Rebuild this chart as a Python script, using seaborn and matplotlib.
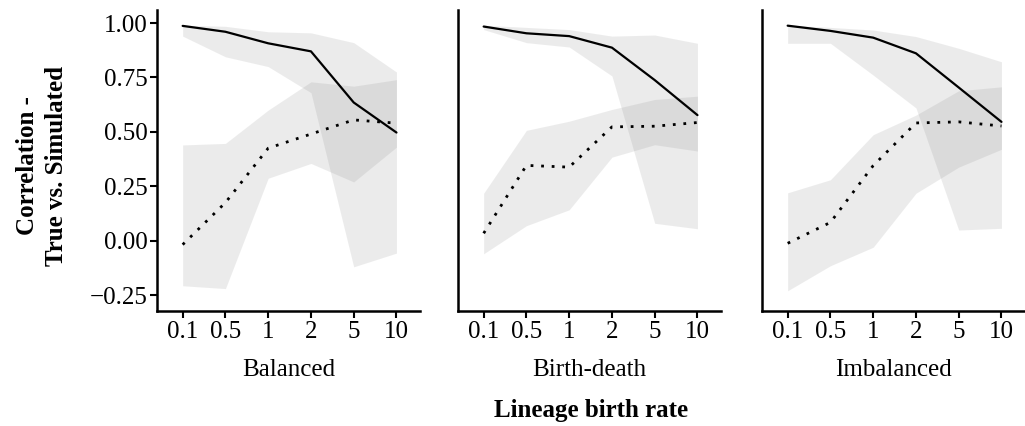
"""
Correlation of true vs simulated values across lineage birth rates.
"""

import matplotlib
matplotlib.use("Agg")
import matplotlib.pyplot as plt
import numpy as np
import pandas as pd
import seaborn as sns

sns.set_theme(style="ticks")
plt.rcParams["font.family"] = ["Liberation Serif", "DejaVu Serif"]
plt.rcParams.update({"font.size": 18, "xtick.labelsize": 18, "ytick.labelsize": 18})
plt.rcParams.update({"text.color": "black", "axes.labelcolor": "black",
                     "xtick.color": "black", "ytick.color": "black"})

# data
rates = ["0.1", "0.5", "1", "2", "5", "10"]
panels = ["Balanced", "Birth-death", "Imbalanced"]

solid_mean = {
    "Balanced": [0.987, 0.960, 0.907, 0.870, 0.635, 0.497],
    "Birth-death": [0.984, 0.953, 0.940, 0.887, 0.738, 0.577],
    "Imbalanced": [0.988, 0.964, 0.933, 0.861, 0.704, 0.546],
}
solid_hi = {
    "Balanced": [0.990, 0.985, 0.960, 0.955, 0.910, 0.775],
    "Birth-death": [0.990, 0.980, 0.970, 0.940, 0.945, 0.907],
    "Imbalanced": [0.990, 0.980, 0.968, 0.938, 0.884, 0.822],
}
solid_lo = {
    "Balanced": [0.940, 0.845, 0.800, 0.680, -0.120, -0.057],
    "Birth-death": [0.970, 0.910, 0.890, 0.757, 0.080, 0.055],
    "Imbalanced": [0.907, 0.907, 0.761, 0.610, 0.049, 0.057],
}
dotted_mean = {
    "Balanced": [-0.018, 0.175, 0.425, 0.490, 0.555, 0.540],
    "Birth-death": [0.034, 0.346, 0.338, 0.523, 0.526, 0.543],
    "Imbalanced": [-0.012, 0.084, 0.345, 0.541, 0.546, 0.527],
}
dotted_hi = {
    "Balanced": [0.440, 0.447, 0.600, 0.730, 0.710, 0.740],
    "Birth-death": [0.218, 0.507, 0.549, 0.603, 0.649, 0.664],
    "Imbalanced": [0.220, 0.280, 0.487, 0.577, 0.689, 0.707],
}
dotted_lo = {
    "Balanced": [-0.207, -0.220, 0.287, 0.355, 0.270, 0.430],
    "Birth-death": [-0.060, 0.069, 0.142, 0.384, 0.441, 0.412],
    "Imbalanced": [-0.230, -0.115, -0.030, 0.218, 0.338, 0.420],
}
yticks = [-0.25, 0, 0.25, 0.5, 0.75, 1.0]
ytick_labels = ["\u22120.25", "0.00", "0.25", "0.50", "0.75", "1.00"]

fig = plt.figure(figsize=(10.25, 4.26), dpi=100)
lefts = [157 / 1025, 458 / 1025, 762 / 1025]
bottom, height = 1 - 311 / 426, (311 - 10) / 426
width = 263 / 1025

for i, name in enumerate(panels):
    ax = fig.add_axes([lefts[i], bottom, width, height])
    pos = np.arange(len(rates))
    df = pd.DataFrame({
        "pos": np.concatenate([pos, pos]),
        "corr": solid_mean[name] + dotted_mean[name],
        "kind": ["solid"] * len(rates) + ["dotted"] * len(rates),
    })
    ax.fill_between(pos, solid_lo[name], solid_hi[name], color="#7f7f7f", alpha=0.15, linewidth=0)
    ax.fill_between(pos, dotted_lo[name], dotted_hi[name], color="#7f7f7f", alpha=0.15, linewidth=0)
    sns.lineplot(ax=ax, data=df[df.kind == "solid"], x="pos", y="corr", color="black", linewidth=1.6)
    sns.lineplot(ax=ax, data=df[df.kind == "dotted"], x="pos", y="corr", color="black",
                 linewidth=2.0, linestyle=(0, (1, 2.8)))

    ax.set_xlim(-0.6, 5.55)
    ax.set_ylim(-0.323, 1.06)
    ax.set_xticks(pos)
    ax.set_xticklabels(rates)
    ax.set_xlabel(name, fontsize=18)
    ax.xaxis.set_label_coords(0.5, -0.197)
    ax.xaxis.label.set_va("center")
    ax.set_ylabel(None)
    sns.despine(ax=ax)
    for sp in ["left", "bottom"]:
        ax.spines[sp].set_linewidth(1.8)
        ax.spines[sp].set_color("black")
    ax.tick_params(axis="x", length=5, width=1.5, color="black", pad=2)
    ax.set_yticks(yticks)
    if i == 0:
        ax.set_yticklabels(ytick_labels)
        ax.tick_params(axis="y", length=5, width=1.5, color="black", pad=2)
    else:
        ax.tick_params(axis="y", length=0, labelleft=False)

fig.text(28 / 1025, 1 - 166 / 426, "Correlation -", rotation=90, ha="center", va="center",
         fontsize=18, fontweight="bold")
fig.text(57 / 1025, 1 - 166 / 426, "True vs. Simulated", rotation=90, ha="center", va="center",
         fontsize=18, fontweight="bold")
fig.text(591 / 1025, 1 - 410 / 426, "Lineage birth rate", ha="center", va="center",
         fontsize=18, fontweight="bold")

plt.savefig("out.png", dpi=100)
